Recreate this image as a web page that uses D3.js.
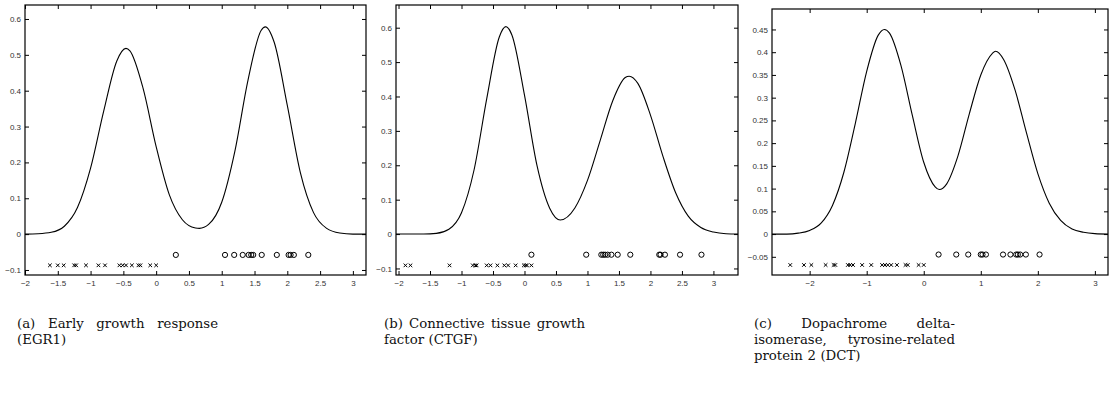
<!DOCTYPE html>
<html>
<head>
<meta charset="utf-8">
<script src="https://cdn.jsdelivr.net/npm/d3@7"></script>
<style>
  body { margin: 0; background: #fff; }
</style>
</head>
<body>
<div id="chart"></div>
<script>
// ---- data ----

// (a) EGR1
const egrCurveX = [-2.0, -1.8, -1.6, -1.4, -1.2, -1.0, -0.8, -0.6, -0.46, -0.4, -0.2, 0.0, 0.2, 0.4, 0.6, 0.66, 0.8, 1.0, 1.2, 1.4, 1.6, 1.665, 1.8, 2.0, 2.2, 2.4, 2.6, 2.8, 3.0, 3.2]
const egrCurveY = [0.000, 0.001, 0.005, 0.022, 0.074, 0.184, 0.343, 0.483, 0.518, 0.511, 0.407, 0.244, 0.110, 0.040, 0.017, 0.016, 0.027, 0.089, 0.231, 0.429, 0.568, 0.578, 0.535, 0.359, 0.171, 0.060, 0.016, 0.003, 0.000, 0.000]
const egrCrosses = [-1.62, -1.50, -1.41, -1.25, -1.22, -1.07, -0.88, -0.78, -0.56, -0.51, -0.46, -0.37, -0.27, -0.24, -0.09, 0.0]
const egrCircles = [0.30, 1.05, 1.19, 1.32, 1.41, 1.45, 1.48, 1.61, 1.84, 2.02, 2.05, 2.10, 2.32]
const egrLevels = [-0.058, -0.087] // circles row, crosses row

// (b) CTGF
const ctgfCurveX = [-2.04, -1.8, -1.6, -1.4, -1.2, -1.0, -0.8, -0.6, -0.4, -0.295, -0.2, 0.0, 0.2, 0.4, 0.567, 0.8, 1.0, 1.2, 1.4, 1.6, 1.662, 1.8, 2.0, 2.2, 2.4, 2.6, 2.8, 3.0, 3.2, 3.39]
const ctgfCurveY = [0.000, 0.000, 0.000, 0.002, 0.014, 0.062, 0.187, 0.393, 0.573, 0.603, 0.579, 0.404, 0.198, 0.075, 0.041, 0.076, 0.156, 0.271, 0.387, 0.455, 0.459, 0.438, 0.346, 0.225, 0.120, 0.052, 0.019, 0.006, 0.001, 0.000]
const ctgfCrosses = [-1.89, -1.81, -1.19, -0.82, -0.78, -0.76, -0.60, -0.54, -0.43, -0.32, -0.26, -0.14, -0.01, 0.02, 0.04, 0.11]
const ctgfCircles = [0.11, 0.98, 1.22, 1.25, 1.28, 1.32, 1.38, 1.48, 1.68, 2.14, 2.16, 2.23, 2.47, 2.81]
const ctgfLevels = [-0.060, -0.091]

// (c) DCT
const dctCurveX = [-2.66, -2.4, -2.2, -2.0, -1.8, -1.6, -1.4, -1.2, -1.0, -0.8, -0.689, -0.6, -0.4, -0.2, 0.0, 0.2, 0.273, 0.4, 0.6, 0.8, 1.0, 1.2, 1.259, 1.4, 1.6, 1.8, 2.0, 2.2, 2.4, 2.6, 2.8, 3.0, 3.23]
const dctCurveY = [0.000, 0.000, 0.002, 0.008, 0.024, 0.063, 0.136, 0.243, 0.358, 0.437, 0.450, 0.442, 0.371, 0.261, 0.158, 0.104, 0.098, 0.110, 0.172, 0.265, 0.350, 0.397, 0.402, 0.384, 0.317, 0.223, 0.133, 0.068, 0.030, 0.011, 0.004, 0.001, 0.000]
const dctCrosses = [-2.34, -2.10, -1.97, -1.72, -1.58, -1.55, -1.33, -1.29, -1.24, -1.08, -0.92, -0.73, -0.68, -0.63, -0.57, -0.47, -0.32, -0.28, -0.09, 0.0]
const dctCircles = [0.26, 0.57, 0.78, 1.00, 1.03, 1.09, 1.39, 1.52, 1.62, 1.65, 1.69, 1.79, 2.03]
const dctLevels = [-0.045, -0.068]

// tick values
const halfTicksX = [-2, -1.5, -1, -0.5, 0, 0.5, 1, 1.5, 2, 2.5, 3]
const unitTicksX = [-2, -1, 0, 1, 2, 3]
const tenthTicksY = [-0.1, 0, 0.1, 0.2, 0.3, 0.4, 0.5, 0.6]
const twentiethTicksY = [-0.05, 0, 0.05, 0.1, 0.15, 0.2, 0.25, 0.3, 0.35, 0.4, 0.45]

// caption lines
const captionA = ['(a) Early growth response', '(EGR1)']
const captionB = ['(b) Connective tissue growth', 'factor (CTGF)']
const captionC = ['(c) Dopachrome delta-', 'isomerase, tyrosine-related', 'protein 2 (DCT)']

// ---- layout ----
const panels = [
  { box: [25, 5, 366, 275], xDom: [-2, 3.2], yDom: [-0.114, 0.639], xTicks: halfTicksX, yTicks: tenthTicksY,
    cx: egrCurveX, cy: egrCurveY, crosses: egrCrosses, circles: egrCircles, levels: egrLevels,
    caption: captionA, capX: 17 },
  { box: [396, 5, 738, 275], xDom: [-2.04, 3.39], yDom: [-0.119, 0.666], xTicks: halfTicksX, yTicks: tenthTicksY,
    cx: ctgfCurveX, cy: ctgfCurveY, crosses: ctgfCrosses, circles: ctgfCircles, levels: ctgfLevels,
    caption: captionB, capX: 384 },
  { box: [772, 9, 1108, 275], xDom: [-2.66, 3.23], yDom: [-0.09, 0.495], xTicks: unitTicksX, yTicks: twentiethTicksY,
    cx: dctCurveX, cy: dctCurveY, crosses: dctCrosses, circles: dctCircles, levels: dctLevels,
    caption: captionC, capX: 754 }
]

const captionWidth = 201
const captionTop = 328
const lineGap = 16

const svg = d3.select('#chart').append('svg')
  .attr('width', 1110)
  .attr('height', 402)

const fmt = d3.format('~g')

panels.forEach(p => {
  const [x0, y0, x1, y1] = p.box
  const x = d3.scaleLinear().domain(p.xDom).range([x0, x1])
  const y = d3.scaleLinear().domain(p.yDom).range([y1, y0])

  const g = svg.append('g')

  // axes, ticks pointing inward on all four sides
  const axisStyle = sel => {
    sel.select('.domain').remove()
    sel.selectAll('line').attr('stroke', '#000')
    sel.selectAll('text')
      .attr('font-family', 'Liberation Sans, Arial, sans-serif')
      .attr('font-size', 8)
      .attr('fill', '#333')
  }

  g.append('g')
    .attr('transform', `translate(0,${y1})`)
    .call(d3.axisBottom(x).tickValues(p.xTicks).tickSize(-4).tickPadding(5).tickFormat(fmt))
    .call(axisStyle)
  g.append('g')
    .attr('transform', `translate(0,${y0})`)
    .call(d3.axisTop(x).tickValues(p.xTicks).tickSize(-4).tickFormat(''))
    .call(axisStyle)
  g.append('g')
    .attr('transform', `translate(${x0},0)`)
    .call(d3.axisLeft(y).tickValues(p.yTicks).tickSize(-4).tickPadding(4).tickFormat(fmt))
    .call(axisStyle)
  g.append('g')
    .attr('transform', `translate(${x1},0)`)
    .call(d3.axisRight(y).tickValues(p.yTicks).tickSize(-4).tickFormat(''))
    .call(axisStyle)

  // frame
  g.append('rect')
    .attr('x', x0).attr('y', y0)
    .attr('width', x1 - x0).attr('height', y1 - y0)
    .attr('fill', 'none')
    .attr('stroke', '#000')
    .attr('stroke-width', 1.2)

  // density curve
  const pts = p.cx.map((v, i) => [v, p.cy[i]])
  g.append('path')
    .datum(pts)
    .attr('fill', 'none')
    .attr('stroke', '#000')
    .attr('stroke-width', 1.1)
    .attr('d', d3.line().x(d => x(d[0])).y(d => y(d[1])).curve(d3.curveMonotoneX))

  // circles row
  g.selectAll('.circ')
    .data(p.circles)
    .join('circle')
    .attr('cx', d => x(d))
    .attr('cy', y(p.levels[0]))
    .attr('r', 2.6)
    .attr('fill', 'none')
    .attr('stroke', '#000')
    .attr('stroke-width', 1)

  // crosses row
  const s = 1.8
  g.selectAll('.cross')
    .data(p.crosses)
    .join('path')
    .attr('transform', d => `translate(${x(d)},${y(p.levels[1])})`)
    .attr('d', `M${-s},${-s}L${s},${s}M${-s},${s}L${s},${-s}`)
    .attr('stroke', '#000')
    .attr('stroke-width', 1)

  // caption, justified like LaTeX
  const cap = svg.append('g')
    .attr('font-family', 'DejaVu Serif, Liberation Serif, serif')
    .attr('font-size', 13.3)
    .attr('fill', '#111')
  p.caption.forEach((line, i) => {
    const words = line.split(' ')
    const widths = words.map(w => {
      const t = cap.append('text').text(w)
      const wd = t.node().getComputedTextLength()
      t.remove()
      return wd
    })
    const last = i === p.caption.length - 1
    const gap = (last || words.length < 2) ? 4.5 : (captionWidth - d3.sum(widths)) / (words.length - 1)
    let cx = p.capX
    words.forEach((w, j) => {
      cap.append('text')
        .attr('x', cx)
        .attr('y', captionTop + i * lineGap)
        .text(w)
      cx += widths[j] + gap
    })
  })
})
</script>
</body>
</html>
